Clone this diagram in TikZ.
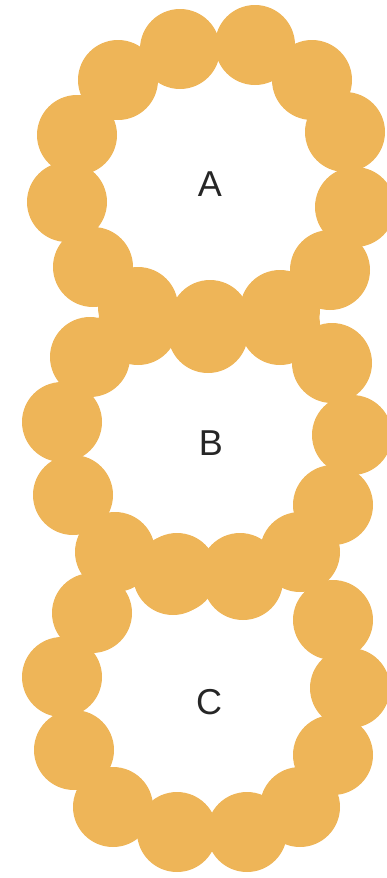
\documentclass[tikz,border=0pt]{standalone}
\usepackage{fontspec}
\setmainfont{Liberation Sans}
\definecolor{beadorange}{RGB}{238,181,88}

\begin{document}
\begin{tikzpicture}[x=1pt,y=-1pt,bead/.style={fill=beadorange},lbl/.style={font=\fontsize{36}{36}\selectfont,text=black!85}]
\useasboundingbox (0,0) rectangle (387,878);
% ring A
\foreach \x/\y in {180/49,255/45,312/80,345/132,355/207,330/270,280/310,210/320,138/307,93/267,67/202,77/135,118/80}
  \fill[bead] (\x,\y) circle (40pt);
% ring B
\foreach \x/\y in {138/325,208/333,280/325,332/363,352/435,333/505,300/552,240/573,177/573,115/552,73/495,62/422,90/357}
  \fill[bead] (\x,\y) circle (40pt);
% ring C
\foreach \x/\y in {173/575,243/580,333/620,350/688,333/755,300/807,247/832,177/832,113/807,74/750,62/677,92/613}
  \fill[bead] (\x,\y) circle (40pt);
\node[lbl] (labelA) at (210,184) {A};
\node[lbl] (labelB) at (211,443) {B};
\node[lbl] (labelC) at (209,702) {C};
\end{tikzpicture}
\end{document}
